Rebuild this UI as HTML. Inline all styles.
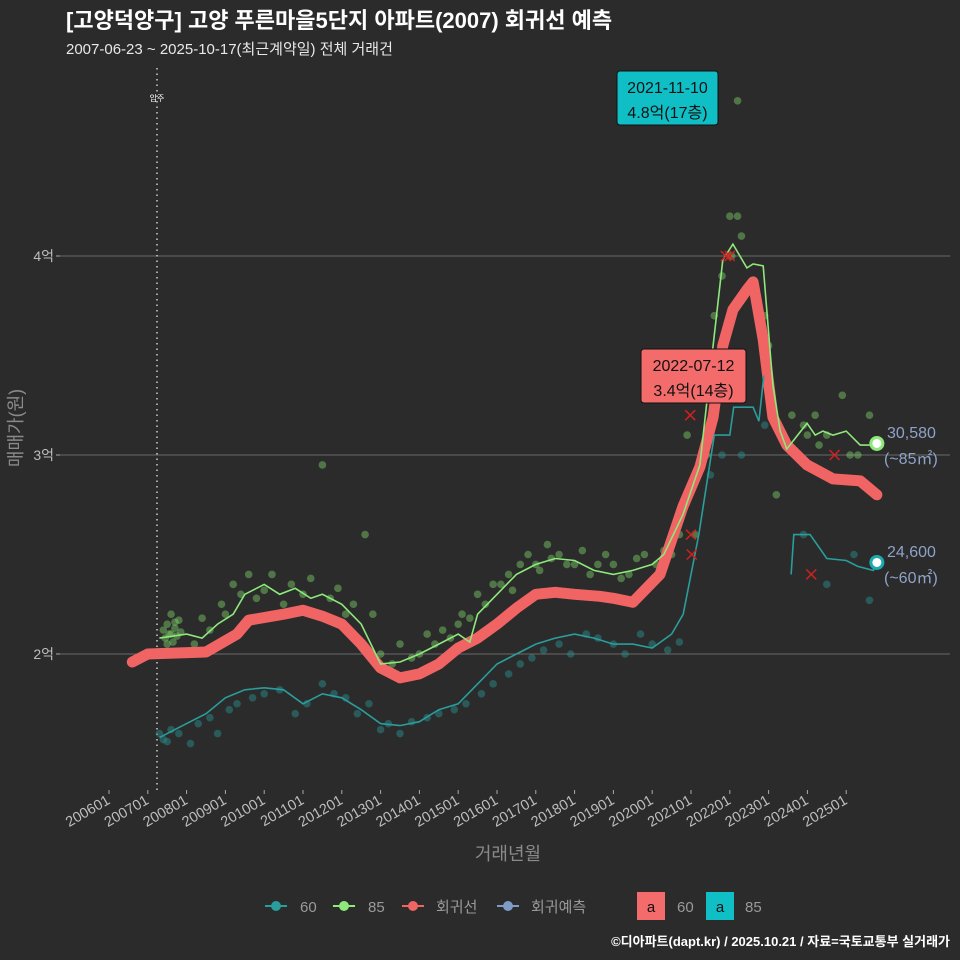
<!DOCTYPE html>
<html><head><meta charset="utf-8">
<style>
html,body{margin:0;padding:0;background:#2b2b2b;}
svg{display:block;font-family:"Liberation Sans","Noto Sans CJK KR",sans-serif;}
</style></head>
<body>
<svg id="chart" width="960" height="960" viewBox="0 0 960 960" xmlns="http://www.w3.org/2000/svg">
<rect x="0" y="0" width="960" height="960" fill="#2b2b2b"/>
<text x="66" y="28" fill="#ffffff" font-size="22" font-weight="bold">[고양덕양구] 고양 푸른마을5단지 아파트(2007) 회귀선 예측</text>
<text x="66" y="54" fill="#e8e8e8" font-size="15">2007-06-23 ~ 2025-10-17(최근계약일) 전체 거래건</text>
<g id="grid"></g>
<g id="marks"></g>
<g id="annot"></g>
<text transform="translate(22,428) rotate(-90)" text-anchor="middle" fill="#8a8a8a" font-size="18">매매가(원)</text>
<text x="508" y="860" text-anchor="middle" fill="#8a8a8a" font-size="18">거래년월</text>
<g id="legend" font-size="15" fill="#9a9a9a">
<g><line x1="265" y1="906" x2="287" y2="906" stroke="#2a9d9d" stroke-width="2"/><circle cx="276" cy="906" r="5" fill="#2a9d9d"/><text x="300" y="912">60</text></g>
<g><line x1="333" y1="906" x2="355" y2="906" stroke="#8ee87a" stroke-width="2"/><circle cx="344" cy="906" r="5" fill="#8ee87a"/><text x="368" y="912">85</text></g>
<g><line x1="402" y1="906" x2="424" y2="906" stroke="#f06464" stroke-width="2"/><circle cx="413" cy="906" r="5" fill="#f06464"/><text x="436" y="912">회귀선</text></g>
<g><line x1="497" y1="906" x2="519" y2="906" stroke="#7f9cc8" stroke-width="2"/><circle cx="508" cy="906" r="5" fill="#7f9cc8"/><text x="531" y="912">회귀예측</text></g>
<g><rect x="637" y="892" width="28" height="28" fill="#f36b6b"/><text x="651" y="912" text-anchor="middle" fill="#111">a</text><text x="677" y="912">60</text></g>
<g><rect x="706" y="892" width="28" height="28" fill="#10bfc6"/><text x="720" y="912" text-anchor="middle" fill="#111">a</text><text x="745" y="912">85</text></g>
</g>
<text x="950" y="946" text-anchor="end" fill="#ffffff" font-size="13" font-weight="bold">©디아파트(dapt.kr) / 2025.10.21 / 자료=국토교통부 실거래가</text>
</svg>
<script>
const yTicks = [2, 3, 4];
const yTickLabels = ['2억', '3억', '4억'];
const xTickYears = [2006,2007,2008,2009,2010,2011,2012,2013,2014,2015,2016,2017,2018,2019,2020,2021,2022,2023,2024,2025];
const xTickLabels = ['200601','200701','200801','200901','201001','201101','201201','201301','201401','201501','201601','201701','201801','201901','202001','202101','202201','202301','202401','202501'];

const regT = [2006.6,2007.0,2008.5,2009.3,2009.6,2010.5,2011.0,2011.5,2012.0,2012.5,2013.0,2013.5,2014.0,2014.5,2015.0,2015.5,2016.0,2016.5,2017.0,2017.5,2018.0,2018.65,2019.0,2019.5,2020.2,2020.79,2021.23,2021.57,2021.82,2022.08,2022.44,2022.6,2022.86,2023.11,2023.47,2023.99,2024.66,2025.36,2025.79];
const regV = [1.96,2.0,2.01,2.1,2.17,2.2,2.22,2.19,2.15,2.05,1.93,1.88,1.9,1.95,2.03,2.08,2.15,2.23,2.3,2.31,2.3,2.29,2.28,2.26,2.4,2.74,2.94,3.19,3.55,3.73,3.83,3.87,3.58,3.19,3.05,2.95,2.88,2.87,2.8];

const s85T = [2007.3,2008.0,2008.4,2008.8,2009.2,2009.5,2010.0,2010.4,2010.8,2011.2,2011.5,2012.0,2012.5,2013.0,2013.5,2014.0,2014.5,2015.0,2015.3,2015.5,2016.0,2016.5,2017.0,2017.5,2018.0,2018.5,2019.0,2019.5,2020.0,2020.3,2020.79,2021.23,2021.57,2021.82,2022.08,2022.44,2022.6,2022.86,2023.11,2023.3,2023.47,2023.99,2024.2,2024.4,2024.66,2025.0,2025.36,2025.79];
const s85V = [2.08,2.1,2.08,2.15,2.2,2.3,2.35,2.3,2.33,2.28,2.3,2.25,2.15,1.95,1.96,2.0,2.05,2.1,2.06,2.2,2.3,2.4,2.45,2.48,2.47,2.42,2.4,2.42,2.45,2.5,2.7,2.95,3.55,3.98,4.06,3.94,3.96,3.95,3.35,3.12,3.03,3.16,3.1,3.12,3.1,3.12,3.05,3.05];

const s60T = [2007.3,2008.0,2008.5,2009.0,2009.5,2010.0,2010.5,2011.0,2011.5,2012.0,2012.5,2013.0,2013.5,2014.0,2014.5,2015.0,2015.5,2016.0,2016.5,2017.0,2017.5,2018.0,2018.5,2019.0,2019.5,2020.0,2020.5,2020.8,2021.2,2021.6,2022.0,2022.1,2022.6,2022.75,2022.88];
const s60V = [1.58,1.65,1.7,1.78,1.82,1.83,1.82,1.75,1.8,1.78,1.72,1.65,1.64,1.66,1.72,1.75,1.85,1.95,2.0,2.05,2.08,2.1,2.08,2.05,2.05,2.03,2.1,2.2,2.6,3.1,3.1,3.24,3.24,3.17,3.4];
const s60bT = [2023.58,2023.65,2024.07,2024.5,2025.0,2025.3,2025.7,2025.79];
const s60bV = [2.4,2.6,2.6,2.48,2.47,2.44,2.42,2.46];

const pts85T = [2007.4,2007.45,2007.5,2007.55,2007.6,2007.65,2007.7,2007.75,2007.8,2007.85,2007.5,2007.6,2007.7,2008.2,2008.4,2008.6,2008.9,2009.0,2009.2,2009.4,2009.6,2009.8,2010.0,2010.2,2010.5,2010.7,2011.0,2011.2,2011.5,2011.7,2011.9,2012.1,2012.3,2012.6,2012.8,2013.0,2013.3,2013.5,2013.8,2014.0,2014.2,2014.4,2014.6,2014.8,2015.0,2015.1,2015.3,2015.5,2015.7,2015.9,2016.1,2016.3,2016.4,2016.6,2016.8,2017.0,2017.1,2017.3,2017.4,2017.6,2017.8,2018.0,2018.2,2018.4,2018.6,2018.8,2019.0,2019.2,2019.4,2019.6,2019.8,2020.1,2020.3,2020.5,2020.7,2020.9,2021.1,2021.3,2021.4,2021.6,2021.8,2022.0,2022.05,2022.2,2022.3,2022.9,2023.2,2023.6,2023.9,2024.2,2024.5,2024.9,2025.3,2025.6,2022.2,2023.0,2024.0,2024.3,2025.1];
const pts85V = [2.12,2.08,2.15,2.1,2.2,2.06,2.13,2.09,2.17,2.11,2.05,2.1,2.16,2.05,2.18,2.12,2.25,2.2,2.35,2.3,2.4,2.28,2.32,2.4,2.25,2.35,2.3,2.38,2.95,2.28,2.33,2.2,2.25,2.6,2.2,2.0,1.95,2.05,1.98,2.0,2.1,2.05,2.12,2.08,2.15,2.2,2.18,2.3,2.25,2.35,2.35,2.4,2.32,2.45,2.5,2.45,2.42,2.55,2.48,2.5,2.45,2.45,2.52,2.4,2.45,2.5,2.45,2.38,2.4,2.48,2.5,2.45,2.52,2.5,2.6,3.1,2.6,3.3,3.0,3.7,3.9,4.2,4.0,4.2,4.1,3.7,2.8,3.2,3.15,3.2,3.1,3.3,3.0,3.2,4.78,3.55,3.1,3.05,3.0];
const pts60T = [2007.3,2007.4,2007.5,2007.6,2007.8,2008.1,2008.3,2008.6,2008.8,2009.1,2009.3,2009.7,2010.0,2010.4,2010.8,2011.1,2011.5,2011.8,2012.1,2012.4,2012.7,2013.0,2013.2,2013.5,2013.8,2014.2,2014.5,2014.9,2015.2,2015.6,2015.9,2016.3,2016.6,2016.9,2017.2,2017.6,2017.9,2018.3,2018.6,2019.0,2019.3,2019.7,2020.0,2020.4,2020.7,2021.5,2021.8,2022.3,2022.9,2023.9,2024.5,2025.2,2025.6];
const pts60V = [1.6,1.57,1.56,1.62,1.6,1.55,1.65,1.68,1.6,1.72,1.75,1.78,1.8,1.82,1.7,1.75,1.85,1.8,1.78,1.7,1.75,1.62,1.65,1.6,1.66,1.68,1.7,1.72,1.75,1.8,1.85,1.9,1.95,1.98,2.02,2.05,2.0,2.1,2.08,2.05,2.0,2.1,2.05,2.02,2.06,2.9,3.0,3.0,3.15,2.6,2.35,2.5,2.27];
const crossT = [2020.98,2021.0,2021.02,2021.9,2022.0,2024.1,2024.7];
const crossV = [3.2,2.6,2.5,4.0,4.0,2.4,3.0];

const X0 = 109, XW = 38.8, Y0 = 654, YH = 199;
function xs(t){ return X0 + (t - 2006) * XW; }
function ys(v){ return Y0 - (v - 2) * YH; }
const NS = 'http://www.w3.org/2000/svg';
function mk(tag, attrs, parent){
  const e = document.createElementNS(NS, tag);
  for (const k in attrs) e.setAttribute(k, attrs[k]);
  parent.appendChild(e); return e;
}
const grid = document.getElementById('grid');
const marks = document.getElementById('marks');
const annot = document.getElementById('annot');

yTicks.forEach((v, i) => {
  const l = mk('line', {x1: 60, x2: 950, y1: ys(v), y2: ys(v), stroke: '#6a6a6a', 'stroke-width': 1}, grid);
  
  
  mk('line', {x1: 56, x2: 60, y1: ys(v), y2: ys(v), stroke: '#aaa'}, grid);
  const t = mk('text', {x: 54, y: ys(v) + 5, 'text-anchor': 'end', fill: '#bdbdbd', 'font-size': 14}, grid);
  t.textContent = yTickLabels[i];
  
  
});
xTickYears.forEach((yr, i) => {
  const x = xs(yr);
  mk('line', {x1: x, x2: x, y1: 790, y2: 794, stroke: '#aaa'}, grid);
  const t = mk('text', {x: x + 2, y: 803, 'text-anchor': 'end', fill: '#bdbdbd', 'font-size': 14.5, transform: 'rotate(-30 ' + (x + 2) + ' 803)'}, grid);
  t.textContent = xTickLabels[i];
  
  
});
const vl = mk('line', {x1: 157, x2: 157, y1: 68, y2: 790, stroke: '#cfcfcf', 'stroke-dasharray': '1.5 4', 'stroke-width': 1.5}, grid);


const vt = mk('text', {x: 157, y: 101, 'text-anchor': 'middle', fill: '#fff', 'font-size': 8}, grid);
vt.textContent = '입주';



pts60T.forEach((t, i) => {
  const c = mk('circle', {cx: xs(t), cy: ys(pts60V[i]), r: 3.8, fill: '#2a8a88', 'fill-opacity': 0.5}, marks);
  
  
});
pts85T.forEach((t, i) => {
  const c = mk('circle', {cx: xs(t), cy: ys(pts85V[i]), r: 3.8, fill: '#7fd36c', 'fill-opacity': 0.45}, marks);
  
  
});
function path(T, V){ return T.map((t, i) => (i ? 'L' : 'M') + xs(t).toFixed(1) + ' ' + ys(V[i]).toFixed(1)).join(' '); }
const pr = mk('path', {d: path(regT, regV), stroke: '#f06464', 'stroke-width': 11, fill: 'none', 'stroke-linecap': 'round', 'stroke-linejoin': 'round'}, marks);


const p60 = mk('path', {d: path(s60T, s60V), stroke: '#2a9d9d', 'stroke-width': 1.6, fill: 'none'}, marks);


const p60b = mk('path', {d: path(s60bT, s60bV), stroke: '#2a9d9d', 'stroke-width': 1.6, fill: 'none'}, marks);


const p85 = mk('path', {d: path(s85T, s85V), stroke: '#8ee87a', 'stroke-width': 1.6, fill: 'none'}, marks);


crossT.forEach((t, i) => {
  const x = xs(t), y = ys(crossV[i]);
  const g = mk('path', {d: `M${x-5} ${y-5}L${x+5} ${y+5}M${x-5} ${y+5}L${x+5} ${y-5}`, stroke: '#d42020', 'stroke-width': 1.5}, marks);
  
  
});
const e85 = mk('circle', {cx: xs(2025.79), cy: ys(3.058), r: 6, fill: '#fff', stroke: '#8ee87a', 'stroke-width': 3}, marks);


const e60 = mk('circle', {cx: xs(2025.79), cy: ys(2.46), r: 6, fill: '#fff', stroke: '#1aaab0', 'stroke-width': 3}, marks);



function label(x, y, txt, name){
  const t = mk('text', {x: x, y: y, fill: '#8fa3c8', 'font-size': 16}, annot);
  t.textContent = txt;
  
  
}
label(887, 438, '30,580', 'end-label-85-price');
label(884, 464, '(~85㎡)', 'end-label-85-size');
label(887, 557, '24,600', 'end-label-60-price');
label(884, 583, '(~60㎡)', 'end-label-60-size');

function box(x, y, w, h, fill, l1, l2, name){
  const g = mk('g', {}, annot);
  
  
  mk('rect', {x: x, y: y, width: w, height: h, rx: 3, fill: fill, stroke: '#111', 'stroke-width': 1}, g);
  const a = mk('text', {x: x + w / 2, y: y + 22, 'text-anchor': 'middle', fill: '#111', 'font-size': 16}, g);
  a.textContent = l1;
  const b = mk('text', {x: x + w / 2, y: y + 47, 'text-anchor': 'middle', fill: '#111', 'font-size': 16}, g);
  b.textContent = l2;
}
box(617, 71, 101, 54, '#10bfc6', '2021-11-10', '4.8억(17층)', 'max-callout');
box(641, 349, 105, 54, '#f36b6b', '2022-07-12', '3.4억(14층)', 'recent-callout');
</script>
</body></html>
